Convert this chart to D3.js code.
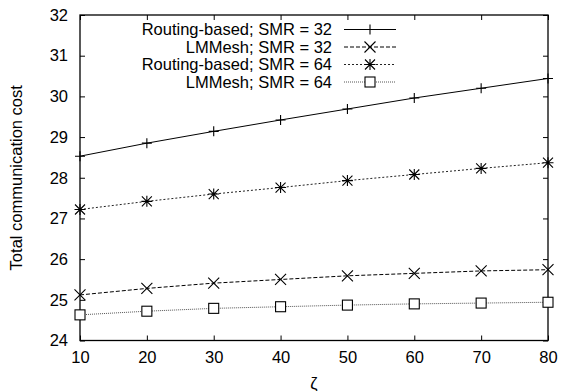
<!DOCTYPE html>
<html>
<head>
<meta charset="utf-8">
<script src="https://cdn.jsdelivr.net/npm/d3@7"></script>
<style>
  html, body { margin: 0; padding: 0; background: #fff; }
  svg { display: block; font-family: "Liberation Sans", Arial, sans-serif; }
</style>
</head>
<body>
<svg id="chart" width="563" height="391"></svg>
<script>
// zeta values on the x axis
const zeta = [10, 20, 30, 40, 50, 60, 70, 80];

// total communication cost per scheme
const routingSmr32 = [28.53, 28.85, 29.14, 29.42, 29.69, 29.96, 30.20, 30.44];
const lmmeshSmr32  = [25.12, 25.28, 25.41, 25.50, 25.59, 25.65, 25.71, 25.74];
const routingSmr64 = [27.22, 27.42, 27.60, 27.76, 27.93, 28.08, 28.23, 28.37];
const lmmeshSmr64  = [24.63, 24.72, 24.79, 24.83, 24.87, 24.90, 24.92, 24.94];

const seriesNames = [
  "Routing-based; SMR = 32",
  "LMMesh; SMR = 32",
  "Routing-based; SMR = 64",
  "LMMesh; SMR = 64"
];

const xTicks = [10, 20, 30, 40, 50, 60, 70, 80];
const yTicks = [24, 25, 26, 27, 28, 29, 30, 31, 32];

const series = [
  { name: seriesNames[0], values: routingSmr32, dash: null,  color: "#000", marker: "plus" },
  { name: seriesNames[1], values: lmmeshSmr32,  dash: "4,2", color: "#000", marker: "cross" },
  { name: seriesNames[2], values: routingSmr64, dash: "2,2", color: "#222", marker: "star" },
  { name: seriesNames[3], values: lmmeshSmr64,  dash: "1,1", color: "#555", marker: "square" }
];

const fontSize = 16.5;
const svg = d3.select("#chart");
const plotLeft = 80, plotRight = 548, plotTop = 15, plotBottom = 340.5;

const x = d3.scaleLinear().domain([10, 80]).range([plotLeft, plotRight]);
const y = d3.scaleLinear().domain([24, 32]).range([plotBottom, plotTop]);

// tick marks pointing into the frame on all four sides
const tickLen = 5;
const axBottom = svg.append("g").attr("transform", `translate(0,${plotBottom})`)
  .call(d3.axisBottom(x).tickValues(xTicks).tickSize(-tickLen).tickPadding(11).tickFormat(d3.format("d")));
const axTop = svg.append("g").attr("transform", `translate(0,${plotTop})`)
  .call(d3.axisTop(x).tickValues(xTicks).tickSize(-tickLen).tickFormat(""));
const axLeft = svg.append("g").attr("transform", `translate(${plotLeft},0)`)
  .call(d3.axisLeft(y).tickValues(yTicks).tickSize(-tickLen).tickPadding(12).tickFormat(d3.format("d")));
const axRight = svg.append("g").attr("transform", `translate(${plotRight},0)`)
  .call(d3.axisRight(y).tickValues(yTicks).tickSize(-tickLen).tickFormat(""));

[axBottom, axTop, axLeft, axRight].forEach(g => {
  g.select(".domain").remove();
  g.selectAll(".tick line").attr("stroke", "#000").attr("stroke-width", 1);
  g.selectAll(".tick text").attr("fill", "#000").attr("font-size", fontSize)
    .attr("font-family", "Liberation Sans, Arial, sans-serif");
});

// plot frame
svg.append("rect")
  .attr("x", plotLeft).attr("y", plotTop)
  .attr("width", plotRight - plotLeft).attr("height", plotBottom - plotTop)
  .attr("fill", "none").attr("stroke", "#000").attr("stroke-width", 1.3);

// marker shapes
function drawMarker(g, type, cx, cy) {
  const s = g.append("g").attr("transform", `translate(${cx},${cy})`)
    .attr("stroke", "#000").attr("stroke-width", 1.1).attr("fill", "none");
  if (type === "plus") {
    s.append("path").attr("d", "M-5,0H5M0,-5V5");
  } else if (type === "cross") {
    s.append("path").attr("d", "M-5.5,-5.5L5.5,5.5M-5.5,5.5L5.5,-5.5");
  } else if (type === "star") {
    s.append("path").attr("d", "M-5.5,0H5.5M0,-5.5V5.5M-5,-5L5,5M-5,5L5,-5");
  } else if (type === "square") {
    s.append("rect").attr("x", -5).attr("y", -5).attr("width", 10).attr("height", 10).attr("fill", "#fff");
  }
}

const line = d3.line().x((d, i) => x(zeta[i])).y(d => y(d));

series.forEach(s => {
  svg.append("path")
    .datum(s.values)
    .attr("d", line)
    .attr("fill", "none")
    .attr("stroke", s.color)
    .attr("stroke-width", 1)
    .attr("stroke-dasharray", s.dash);
});
series.forEach(s => {
  const g = svg.append("g");
  s.values.forEach((v, i) => drawMarker(g, s.marker, x(zeta[i]), y(v)));
});

// legend
const legendRows = [29.5, 47, 64.5, 82];
series.forEach((s, i) => {
  const ly = legendRows[i];
  svg.append("text")
    .attr("x", 332).attr("y", ly).attr("dy", "0.35em")
    .attr("text-anchor", "end").attr("font-size", fontSize).attr("fill", "#000")
    .text(s.name);
  svg.append("line")
    .attr("x1", 344).attr("x2", 396).attr("y1", ly).attr("y2", ly)
    .attr("stroke", s.color).attr("stroke-width", 1)
    .attr("stroke-dasharray", s.dash);
  drawMarker(svg, s.marker, 370, ly);
});

// axis titles
svg.append("text")
  .attr("transform", `translate(16,${(plotTop + plotBottom) / 2}) rotate(-90)`)
  .attr("text-anchor", "middle").attr("dy", "0.35em")
  .attr("font-size", fontSize).attr("fill", "#000")
  .text("Total communication cost");

svg.append("text")
  .attr("x", (plotLeft + plotRight) / 2).attr("y", 383).attr("dy", "0.35em")
  .attr("text-anchor", "middle").attr("font-size", fontSize).attr("fill", "#000")
  .text("ζ");
</script>
</body>
</html>
